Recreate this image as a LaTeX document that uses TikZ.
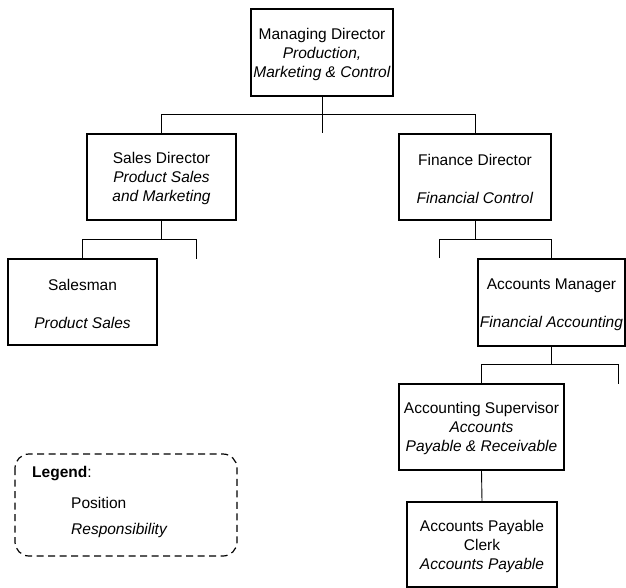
\documentclass[tikz,border=0pt]{standalone}
\usepackage{fontspec}
\setmainfont{Liberation Sans}
\newcommand{\topstrut}{\rule{0pt}{15pt}}
\begin{document}
\begin{tikzpicture}[x=1pt,y=-1pt,
  every node/.style={font=\fontsize{15.5}{19}\selectfont, inner sep=0pt, align=center},
  box/.style={draw=black, line width=1.3pt, rectangle, fill=white},
  conn/.style={draw=black, line width=0.9pt},
  legendbox/.style={draw=black, line width=1.2pt, dash pattern=on 7pt off 4.5pt, rounded corners=14pt}]
\useasboundingbox (0,0) rectangle (626,588);
\fill[white] (0,0) rectangle (626,588);

% boxes
\node[box, minimum width=142pt, minimum height=87pt] (md) at (322,52.5)
  {\topstrut Managing Director\\\textit{Production,}\\\textit{Marketing \& Control}};
\node[box, minimum width=149pt, minimum height=86pt] (sd) at (161.5,177)
  {\topstrut Sales Director\\\textit{Product Sales}\\\textit{and Marketing}};
\node[box, minimum width=152pt, minimum height=86pt] (fd) at (475,177)
  {\topstrut Finance Director\\[19pt]\textit{Financial Control}};
\node[box, minimum width=149pt, minimum height=86pt] (sm) at (82.5,302)
  {\topstrut Salesman\\[19pt]\textit{Product Sales}};
\node[box, minimum width=147pt, minimum height=87pt] (am) at (551.5,302.5)
  {\topstrut Accounts Manager\\[19pt]\textit{Financial Accounting}};
\node[box, minimum width=165pt, minimum height=86pt] (as) at (481.5,427)
  {\topstrut Accounting Supervisor\\\textit{Accounts}\\\textit{Payable \& Receivable}};
\node[box, minimum width=150pt, minimum height=85pt] (ck) at (482,544.5)
  {\topstrut Accounts Payable\\Clerk\\\textit{Accounts Payable}};

% coordinates
\coordinate (bar1) at (0,114);
\coordinate (mdend) at (322,133);
\coordinate (bar2) at (0,239);
\coordinate (sdfree) at (196,259);
\coordinate (fdfree) at (439,258);
\coordinate (bar3) at (0,364);
\coordinate (amfree) at (618,384);

% connectors
\draw[conn] (md.south) -- (mdend);
\draw[conn] (sd.north) -- (sd.north |- bar1) -- (fd.north |- bar1) -- (fd.north);
\draw[conn] (sd.south) -- (sd.south |- bar2);
\draw[conn] (sm.north) -- (sm.north |- bar2) -- (sdfree |- bar2) -- (sdfree);
\draw[conn] (fd.south) -- (fd.south |- bar2);
\draw[conn] (fdfree) -- (fdfree |- bar2) -- (am.north |- bar2) -- (am.north);
\draw[conn] (am.south) -- (am.south |- bar3);
\draw[conn] (as.north) -- (as.north |- bar3) -- (amfree |- bar3) -- (amfree);
\draw[conn] (as.south) -- (ck.north);

% legend
\draw[legendbox] (15,454) rectangle (237,556);
\node[anchor=west] (lg) at (32,474) {\textbf{Legend}:};
\node[anchor=west] (lp) at (71,503) {Position};
\node[anchor=west] (lr) at (71,530) {\textit{Responsibility}};
\end{tikzpicture}
\end{document}
